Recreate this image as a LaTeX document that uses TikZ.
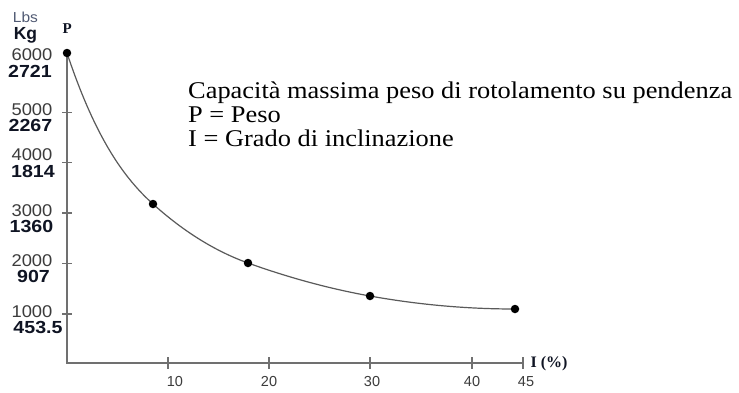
\documentclass[tikz,border=0pt]{standalone}
\usepackage{fontspec}
\setmainfont{Liberation Serif}
\newfontfamily\arialf{Liberation Sans}
\newcommand{\hstretch}[2]{\scalebox{#1}[1]{#2}}
\definecolor{axisgray}{RGB}{112,112,112}
\definecolor{curvegray}{RGB}{90,90,90}
\definecolor{numgray}{RGB}{60,60,60}
\definecolor{numdark}{RGB}{15,20,35}
\definecolor{lbsgray}{RGB}{80,90,115}
\begin{document}
\begin{tikzpicture}[x=1pt,y=-1pt,
  numreg/.style={font=\arialf\fontsize{17}{17}\selectfont, text=numgray, inner sep=0pt, text height=0.7em, text depth=0pt},
  numbold/.style={font=\arialf\bfseries\fontsize{17.5}{17.5}\selectfont, text=numdark, inner sep=0pt, text height=0.7em, text depth=0pt},
  ticklbl/.style={font=\arialf\fontsize{14.5}{14.5}\selectfont, text=numgray, inner sep=0pt, text height=0.72em, text depth=0pt},
  axtitle/.style={font=\bfseries\fontsize{16}{16}\selectfont, text=numdark, inner sep=0pt},
  maintxt/.style={font=\fontsize{24}{24}\selectfont, text=black, inner sep=0pt, anchor=base west},
  dot/.style={circle, fill=black, inner sep=0pt, minimum size=8.5pt},
  axisline/.style={draw=axisgray, line width=1.4pt},
  tickline/.style={draw=axisgray, line width=1.4pt}
]
\useasboundingbox (0,0) rectangle (739,392);
\fill[white] (0,0) rectangle (739,392);

% axes
\coordinate (O) at (67,363);
\coordinate (ytop) at (67,53);
\coordinate (xend) at (523,363);
\draw[axisline] (ytop) -- (O) -- (xend);

% y ticks
\foreach \yy in {112.5,162.5,213,263.5,314}{
  \draw[tickline] (62,\yy) -- (72,\yy);
}
% x ticks
\foreach \xx in {168,269,370,472,523}{
  \draw[tickline] (\xx,357) -- (\xx,369);
}

% data points
\coordinate (c0) at (67,53);
\coordinate (c1) at (153,204);
\coordinate (c2) at (248,263);
\coordinate (c3) at (370,296);
\coordinate (c4) at (515,309);
\draw[curvegray, line width=1.2pt]
  (c0) .. controls (95.67,139) and (124.33,178.2) .. (c1)
       .. controls (184.67,232.5) and (216.33,251.6) .. (c2)
       .. controls (288.67,277.6) and (329.33,288.7) .. (c3)
       .. controls (418.33,304.7) and (466.67,309) .. (c4);
\node[dot] (d0) at (c0) {};
\node[dot] (d1) at (c1) {};
\node[dot] (d2) at (c2) {};
\node[dot] (d3) at (c3) {};
\node[dot] (d4) at (c4) {};

% axis titles
\node[font=\arialf\fontsize{14.5}{14.5}\selectfont, text=lbsgray, inner sep=0pt] (lbs) at (25.5,17) {\hstretch{1.07}{Lbs}};
\node[font=\arialf\bfseries\fontsize{17.5}{17.5}\selectfont, text=numdark, inner sep=0pt] (kg) at (25.5,35) {Kg};
\node[font=\bfseries\fontsize{15}{15}\selectfont, text=numdark, inner sep=0pt] (ptitle) at (67.2,28.3) {P};
\node[axtitle] (ititle) at (549,363.5) {I (\%)};

% y labels
\node[numreg] (l6000) at (32,57) {\hstretch{1.08}{6000}};
\node[numbold] (k2721) at (30,73.5) {\hstretch{1.12}{2721}};
\node[numreg] (l5000) at (32,111.5) {\hstretch{1.08}{5000}};
\node[numbold] (k2267) at (30.5,127.5) {\hstretch{1.12}{2267}};
\node[numreg] (l4000) at (32,156.5) {\hstretch{1.08}{4000}};
\node[numbold] (k1814) at (33,174) {\hstretch{1.12}{1814}};
\node[numreg] (l3000) at (32,212.5) {\hstretch{1.08}{3000}};
\node[numbold] (k1360) at (31.5,229) {\hstretch{1.12}{1360}};
\node[numreg] (l2000) at (32,262.5) {\hstretch{1.08}{2000}};
\node[numbold] (k907) at (33.5,279) {\hstretch{1.12}{907}};
\node[numreg] (l1000) at (32,313.5) {\hstretch{1.08}{1000}};
\node[numbold] (k4535) at (38,330) {\hstretch{1.12}{453.5}};

% x labels
\node[ticklbl] (x10) at (175,383) {10};
\node[ticklbl] (x20) at (269,383) {20};
\node[ticklbl] (x30) at (372,383) {30};
\node[ticklbl] (x40) at (472,383) {40};
\node[ticklbl] (x45) at (526,383) {45};

% legend text
\node[maintxt] (t1) at (188,98) {\hstretch{1.1}{Capacità massima peso di rotolamento su pendenza}};
\node[maintxt] (t2) at (188,122) {\hstretch{1.1}{P = Peso}};
\node[maintxt] (t3) at (188,146) {\hstretch{1.1}{I = Grado di inclinazione}};
\end{tikzpicture}
\end{document}
